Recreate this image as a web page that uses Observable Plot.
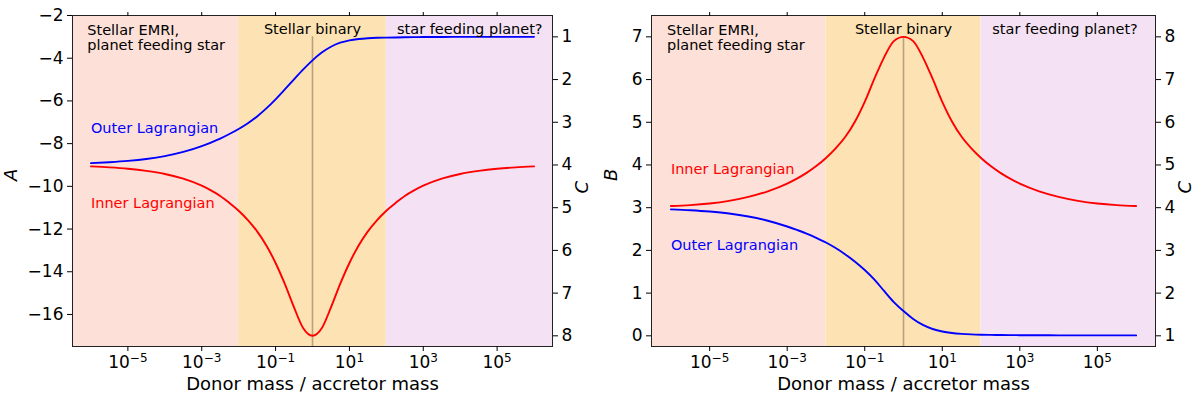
<!DOCTYPE html>
<html><head><meta charset="utf-8">
<script src="https://cdn.jsdelivr.net/npm/d3@7"></script>
<script src="https://cdn.jsdelivr.net/npm/@observablehq/plot@0.6"></script>
<style>
body{margin:0;background:#fff;font-family:"DejaVu Sans",sans-serif;}
#wrap{display:flex;width:1200px;height:398px;}
#wrap > div{width:600px;height:398px;}
</style></head><body><div id="wrap"><div id="left"></div><div id="right"></div></div>
<script>
// log10 of donor/accretor mass ratio at which the curves were read
const logQ   = [-6,-5.5,-5,-4.5,-4,-3.5,-3,-2.75,-2.5,-2.25,-2,-1.75,-1.5,-1.25,-1,-0.75,-0.5,-0.25,0,0.25,0.5,0.75,1,1.25,1.5,1.75,2,2.25,2.5,2.75,3,3.5,4,4.5,5,5.5,6];
// left panel (A)
const outerA = [-8.915,-8.87,-8.81,-8.72,-8.585,-8.39,-8.115,-7.95,-7.765,-7.55,-7.315,-7.045,-6.725,-6.35,-5.925,-5.4625,-4.9875,-4.525,-4.10,-3.7375,-3.4625,-3.275,-3.1625,-3.10,-3.065,-3.045,-3.035,-3.027,-3.02,-3.015,-3.01,-3.005,-3.0,-3.0,-3.0,-3.0,-3.0];
const innerA = [-9.065,-9.11,-9.175,-9.275,-9.42,-9.64,-9.97,-10.19,-10.45,-10.78,-11.14,-11.58,-12.11,-12.77,-13.59,-14.57,-15.67,-16.65,-17.0,-16.65,-15.67,-14.57,-13.59,-12.77,-12.11,-11.58,-11.14,-10.78,-10.45,-10.19,-9.97,-9.64,-9.42,-9.275,-9.175,-9.11,-9.065];
// right panel (B)
const innerB = [3.04,3.06,3.098,3.161,3.254,3.384,3.565,3.68,3.815,3.975,4.165,4.39,4.66,5.02,5.48,6.02,6.52,6.9,7.0,6.9,6.52,6.02,5.48,5.02,4.66,4.39,4.165,3.975,3.815,3.68,3.565,3.384,3.254,3.161,3.098,3.06,3.04];
const outerB = [2.96,2.94,2.91,2.865,2.795,2.695,2.56,2.48,2.395,2.295,2.185,2.055,1.905,1.735,1.54,1.315,1.05,0.79,0.58,0.395,0.255,0.16,0.10,0.065,0.045,0.033,0.026,0.022,0.019,0.017,0.015,0.013,0.011,0.01,0.01,0.01,0.01];

const xTicks = [1e-5,1e-3,1e-1,1e1,1e3,1e5];
const aTicks = [-16,-14,-12,-10,-8,-6,-4,-2];
const bTicks = [0,1,2,3,4,5,6,7];
const cTicks = [1,2,3,4,5,6,7,8];
const regionEdges = [1e-2, 1e2];
const regionNames = ["Stellar EMRI,\nplanet feeding star","Stellar binary","star feeding planet?"];
const regionColors = ["#fde0d8","#fde3b4","#f4e2f4"];
const xLabel = "Donor mass / accretor mass";

const xDomain = [10**-6.5, 10**6.5];
const FONT = "DejaVu Sans";

const fmtNum = d => d < 0 ? "\u2212" + Math.abs(d) : String(d);
const supMap = {"-":"\u207B","0":"\u2070","1":"\u00B9","2":"\u00B2","3":"\u00B3","4":"\u2074","5":"\u2075","6":"\u2076","7":"\u2077","8":"\u2078","9":"\u2079"};
const fmtPow = d => "10" + String(Math.round(Math.log10(d))).split("").map(c => supMap[c]).join("");

function series(vals){ return logQ.map((l,i)=>({q: 10**l, v: vals[i]})); }
function regions(){
  const e = [xDomain[0], ...regionEdges, xDomain[1]];
  return regionNames.map((n,i)=>({x1:e[i], x2:e[i+1], fill:regionColors[i]}));
}

function panel({yDomain, yTicks, cToY, yToC, yName, vTop, lines, labels, mL, mR}){
  return Plot.plot({
    width: 600, height: 398,
    marginLeft: mL, marginRight: mR, marginTop: 15, marginBottom: 398-346,
    style: {fontFamily: FONT, fontSize: "16px", color: "black", background: "white", overflow: "visible"},
    x: {type: "log", domain: xDomain},
    y: {domain: yDomain},
    marks: [
      Plot.rect(regions(), {x1:"x1", x2:"x2", fill:"fill"}),
      Plot.ruleX([1], {y1: yDomain[0], y2: vTop, stroke:"#b9a27c", strokeWidth:1.6}),
      ...lines.map(([vals,color]) => Plot.line(series(vals), {x:"q", y:"v", stroke:color, strokeWidth:1.9, curve:"monotone-x"})),
      ...labels.map(l => Plot.text([l.text], {x: () => l.x, y: () => l.y, text: d => d, textAnchor:"start", lineAnchor:"bottom", fill:l.color, fontSize:14.5})),
      Plot.text([regionNames[0]], {x: () => 10**-6.1, frameAnchor:"top", text: d=>d, textAnchor:"start", lineAnchor:"top", dy:8, fontSize:14.5, lineHeight:1.08, fill:"black"}),
      Plot.text([regionNames[1]], {x: () => 1, frameAnchor:"top", text: d=>d, textAnchor:"middle", lineAnchor:"top", dy:8, fontSize:14.5, fill:"black"}),
      Plot.text([regionNames[2]], {x: () => 10**2.29, frameAnchor:"top", text: d=>d, textAnchor:"start", lineAnchor:"top", dy:8, fontSize:14.5, fill:"black"}),
      Plot.frame({stroke:"#222", strokeWidth:1}),
      Plot.axisX({anchor:"bottom", ticks:xTicks, tickSize:5, tickPadding:4, fontSize:17, tickFormat: fmtPow, label:null}),
      Plot.axisX({anchor:"top", ticks:xTicks, tickSize:4, tickFormat: () => "", label:null}),
      Plot.axisY({anchor:"left", ticks:yTicks, tickSize:5, tickPadding:4, fontSize:17, tickFormat: fmtNum, label:null}),
      Plot.axisY({anchor:"right", ticks:cTicks.map(cToY), tickSize:5, tickPadding:4, fontSize:17, tickFormat: d => fmtNum(Math.round(yToC(d))), label:null}),
      Plot.text([xLabel], {frameAnchor:"bottom", text:d=>d, lineAnchor:"bottom", dy:43, fontSize:18, fill:"black"}),
      Plot.text([yName], {frameAnchor:"left", text:d=>d, rotate:-90, dx:-(mL-11), fontSize:18, fontStyle:"italic", fill:"black"}),
      Plot.text(["C"], {frameAnchor:"right", text:d=>d, rotate:-90, dx:30, fontSize:18, fontStyle:"italic", fill:"black"})
    ]
  });
}

const left = panel({
  yDomain: [-17.5, -2], yTicks: aTicks,
  cToY: c => -(2*c + 1), yToC: a => -(a + 1)/2,
  yName: "A", vTop: -3, mL: 72, mR: 48,
  lines: [[outerA, "#0000ff"], [innerA, "#ff0000"]],
  labels: [
    {text:"Outer Lagrangian", x:1e-6, y:-7.5, color:"#0000ff"},
    {text:"Inner Lagrangian", x:1e-6, y:-11.0, color:"#ff0000"}
  ]
});
const right = panel({
  yDomain: [-0.25, 7.5], yTicks: bTicks,
  cToY: c => c - 1, yToC: b => b + 1,
  yName: "B", vTop: 7, mL: 51, mR: 45,
  lines: [[innerB, "#ff0000"], [outerB, "#0000ff"]],
  labels: [
    {text:"Inner Lagrangian", x:1e-6, y:3.8, color:"#ff0000"},
    {text:"Outer Lagrangian", x:1e-6, y:2.02, color:"#0000ff"}
  ]
});
document.getElementById("left").append(left);
document.getElementById("right").append(right);

// render exponents of x tick labels as raised smaller text (like mathtext)
try {
  const inv = {}; for (const k in supMap) inv[supMap[k]] = k.replace("-", "\u2212");
  for (const svg of [left, right]) {
    svg.querySelectorAll("text").forEach(t => {
      const s = t.textContent;
      if (/^10[\u207B\u2070\u00B9\u00B2\u00B3\u2074-\u2079]+$/.test(s)) {
        const exp = s.slice(2).split("").map(c => inv[c]).join("");
        t.textContent = "10";
        const ts = document.createElementNS("http://www.w3.org/2000/svg", "tspan");
        ts.setAttribute("dy", "-0.45em");
        ts.setAttribute("font-size", "12");
        ts.textContent = exp;
        t.appendChild(ts);
      }
    });
  }
} catch (e) {}
</script>
</body></html>
